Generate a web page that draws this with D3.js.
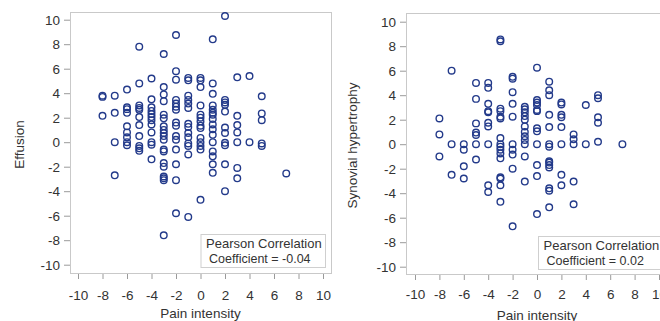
<!DOCTYPE html>
<html>
<head>
<meta charset="utf-8">
<script src="https://cdn.jsdelivr.net/npm/d3@7"></script>
<style>
  html, body { margin: 0; padding: 0; background: #fff; }
  svg { display: block; font-family: "Liberation Sans", Arial, sans-serif; }
</style>
</head>
<body>
<svg id="chart" width="660" height="321"></svg>
<script>
// Data: one list of y values per pain-intensity level
const painLevels = [-8, -7, -6, -5, -4, -3, -2, -1, 0, 1, 2, 3, 4, 5, 6, 7];

const effusionByPain = [
  [3.8, 3.7, 2.15],
  [3.8, 2.4, 0, -2.7],
  [4.3, 2.85, 2.7, 2.4, 1.3, 0.8, 0.4, 0, -0.25],
  [7.8, 4.8, 3.0, 2.8, 2.65, 2.05, 1.4, 0.5, -0.3, -0.5, -0.7],
  [5.2, 3.5, 2.85, 2.55, 2.3, 2.05, 1.8, 1.45, 0.8, 0, -0.2, -1.4],
  [7.2, 4.5, 3.9, 3.35, 2.25, 1.95, 1.3, 1.0, 0.75, 0.5, 0.2, -0.6, -0.75, -1.7, -2.0, -2.8, -2.95, -3.1, -7.6],
  [8.75, 5.8, 5.1, 3.45, 3.15, 2.9, 2.65, 1.6, 1.35, 0.5, 0.2, -0.6, -1.8, -3.1, -5.8],
  [5.25, 5.05, 3.8, 3.45, 3.15, 2.8, 1.5, 1.25, 0.75, 0.4, -0.1, -0.3, -1.0, -6.1],
  [5.25, 5.05, 4.5, 3.0, 2.25, 2.0, 1.7, 1.35, 1.15, 0.35, 0, -0.3, -0.6, -4.7],
  [8.4, 4.8, 3.95, 3.0, 2.65, 2.4, 2.25, 1.9, 1.45, 1.05, 0.6, 0, -0.75, -1.15, -1.8, -2.5],
  [10.3, 3.45, 3.25, 3.05, 2.5, 1.2, 0.75, -0.05, -0.25, -1.8, -4.0],
  [5.3, 2.15, 1.4, 0.8, 0, -2.1, -2.95],
  [5.4, 0],
  [3.75, 2.35, 1.8, -0.1, -0.3],
  [],
  [-2.55]
];

const synovialByPain = [
  [2.1, 0.8, -1.0],
  [6.0, 0, -2.5],
  [0, -0.45, -1.8, -2.8],
  [5.0, 3.7, 1.7, 0.95, 0.75, 0, -1.25],
  [5.0, 4.6, 3.3, 2.7, 2.6, 1.75, 1.45, 0, -3.35, -3.9],
  [8.55, 8.4, 2.9, 2.7, 2.25, 2.1, 0.5, 0, -0.2, -0.45, -0.75, -1.15, -2.7, -2.8, -3.35, -4.7],
  [5.5, 5.35, 4.25, 3.3, 2.25, 0, -0.45, -0.85, -2.0, -6.7],
  [3.05, 2.85, 2.6, 2.3, 2.0, 1.45, 1.0, 0.65, 0.35, 0, -1.0, -3.05],
  [6.25, 3.6, 3.4, 3.2, 2.8, 2.7, 1.3, 1.05, 0, -1.7, -2.6, -5.7],
  [5.1, 4.4, 4.0, 2.4, 1.4, 0, -0.2, -1.4, -1.5, -1.7, -1.9, -3.6, -3.8, -5.15],
  [3.4, 3.25, 2.4, 2.2, 1.4, 0, -2.5, -3.35],
  [0.8, 0.4, 0, -3.05, -4.9],
  [3.2, 0],
  [4.0, 3.75, 2.2, 1.75, 0.2],
  [],
  [0]
];

const axisTicks = [-10, -8, -6, -4, -2, 0, 2, 4, 6, 8, 10];
const yLabels = ["Effusion", "Synovial hypertrophy"];
const xLabel = "Pain intensity";
const coefLabels = ["Coefficient = -0.04", "Coefficient = 0.02"];

// Layout of the two panels (pixels)
const panels = [
  {
    values: effusionByPain, yLabel: yLabels[0], coef: coefLabels[0],
    frame: { left: 70, top: 12, right: 331, bottom: 273 },
    xRange: [78, 323], yRange: [264.7, 19.7], xPad: 11,
    yLabelX: 24, xLabelY: 318,
    legend: { x: 200.5, y: 234, w: 124.5, h: 33 }
  },
  {
    values: synovialByPain, yLabel: yLabels[1], coef: coefLabels[1],
    frame: { left: 406, top: 13, right: 664, bottom: 274 },
    xRange: [415, 659], yRange: [266.7, 21.7], xPad: 9,
    yLabelX: 357, xLabelY: 320,
    legend: { x: 538, y: 236, w: 130, h: 33 }
  }
];

const $svg = d3.select("#chart");

panels.forEach(p => drawPanel($svg.append("g"), p));

function drawPanel($g, p) {
  const x = d3.scaleLinear().domain([-10, 10]).range(p.xRange);
  const y = d3.scaleLinear().domain([-10, 10]).range(p.yRange);
  const f = p.frame;

  // Frame
  $g.append("rect")
      .attr("x", f.left + 0.5)
      .attr("y", f.top + 0.5)
      .attr("width", f.right - f.left)
      .attr("height", f.bottom - f.top)
      .attr("fill", "#fff")
      .attr("stroke", "#c9c9c9");

  // Axes
  const $yAxis = $g.append("g")
      .attr("transform", `translate(${f.left},0)`)
      .call(d3.axisLeft(y).tickValues(axisTicks).tickSize(6).tickPadding(4).tickFormat(d => String(d)));
  const $xAxis = $g.append("g")
      .attr("transform", `translate(0,${f.bottom + 1})`)
      .call(d3.axisBottom(x).tickValues(axisTicks).tickSize(5).tickPadding(p.xPad).tickFormat(d => String(d)));

  [$xAxis, $yAxis].forEach($a => {
    $a.select(".domain").remove();
    $a.selectAll(".tick line").attr("stroke", "#9a9a9a");
    $a.selectAll(".tick text")
        .attr("fill", "#333")
        .attr("font-size", 13.5)
        .attr("font-family", "'Liberation Sans', Arial, sans-serif");
  });

  // Axis titles
  $g.append("text")
      .attr("transform", `translate(${p.yLabelX},${(f.top + f.bottom) / 2 + 2}) rotate(-90)`)
      .attr("text-anchor", "middle")
      .attr("font-size", 13.5)
      .attr("fill", "#333")
      .text(p.yLabel);

  $g.append("text")
      .attr("x", x(0))
      .attr("y", p.xLabelY)
      .attr("text-anchor", "middle")
      .attr("font-size", 13.5)
      .attr("fill", "#333")
      .text(xLabel);

  // Points
  const points = painLevels.flatMap((pain, i) => p.values[i].map(v => ({ x: pain, y: v })));
  $g.append("g")
    .selectAll("circle")
    .data(points)
    .join("circle")
      .attr("cx", d => x(d.x))
      .attr("cy", d => y(d.y))
      .attr("r", 3.3)
      .attr("fill", "none")
      .attr("stroke", "#233a8a")
      .attr("stroke-width", 1.4);

  // Correlation box
  const l = p.legend;
  $g.append("rect")
      .attr("x", l.x + 0.5)
      .attr("y", l.y + 0.5)
      .attr("width", l.w)
      .attr("height", l.h)
      .attr("fill", "#fff")
      .attr("stroke", "#cfcfcf");
  $g.append("text")
      .attr("x", l.x + 5.5)
      .attr("y", l.y + 14)
      .attr("font-size", 13)
      .attr("fill", "#333")
      .text("Pearson Correlation");
  $g.append("text")
      .attr("x", l.x + 8.5)
      .attr("y", l.y + 28.5)
      .attr("font-size", 12.5)
      .attr("fill", "#333")
      .text(p.coef);
}
</script>
</body>
</html>
